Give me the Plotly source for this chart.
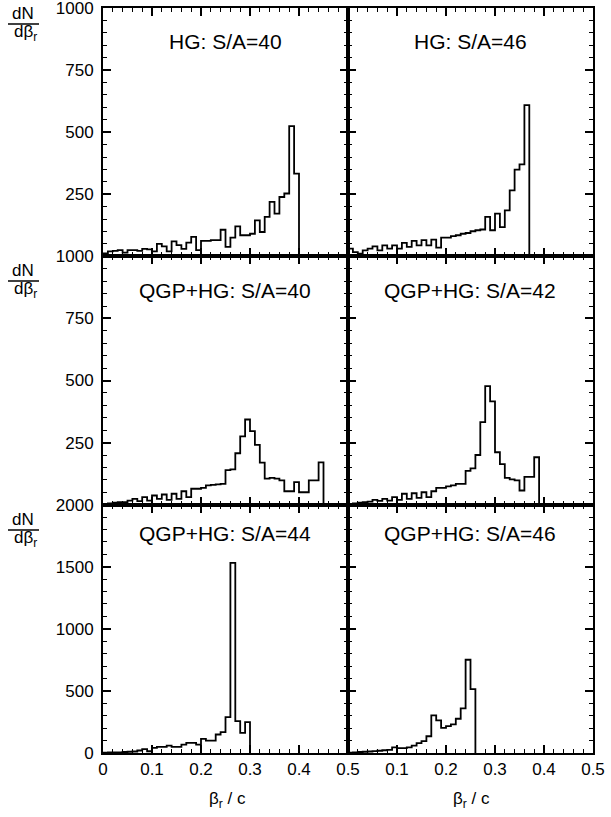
import plotly.graph_objects as go
from plotly.subplots import make_subplots

BIN = 0.01

hg40 = [12, 20, 22, 25, 15, 25, 25, 22, 30, 28, 20, 50, 40, 20, 60, 45, 30, 55, 78, 25,
        62, 62, 65, 65, 107, 38, 75, 121, 85, 85, 91, 145, 98, 159, 219, 172, 239, 253, 524, 333]
hg46 = [31, 17, 11, 24, 31, 40, 24, 44, 31, 44, 31, 54, 38, 62, 44, 65, 44, 67, 35, 75,
        75, 81, 85, 91, 94, 101, 105, 108, 159, 105, 172, 118, 185, 266, 349, 370, 609]
qgp40 = [3, 5, 8, 10, 10, 16, 23, 14, 30, 16, 37, 23, 41, 19, 44, 23, 54, 30, 64, 64,
         68, 78, 80, 82, 84, 139, 142, 207, 275, 343, 296, 241, 169, 105, 108, 105, 98, 54, 54, 91,
         50, 50, 98, 98, 170]
qgp42 = [3, 5, 8, 10, 12, 19, 15, 23, 16, 30, 19, 44, 23, 46, 27, 50, 30, 54, 68, 68,
         74, 78, 84, 84, 136, 146, 200, 332, 477, 416, 211, 163, 108, 102, 98, 57, 112, 112, 191]
qgp44 = [3, 4, 5, 5, 8, 10, 12, 20, 32, 14, 41, 49, 49, 59, 49, 49, 68, 81, 81, 68,
         114, 100, 100, 149, 168, 289, 1532, 257, 162, 249]
qgp46 = [3, 5, 8, 10, 12, 15, 18, 22, 25, 45, 40, 40, 45, 60, 80, 95, 135, 303, 262, 203,
         216, 230, 276, 359, 751, 514]

titles = ["HG: S/A=40", "HG: S/A=46", "QGP+HG: S/A=40", "QGP+HG: S/A=42",
          "QGP+HG: S/A=44", "QGP+HG: S/A=46"]
series = [hg40, hg46, qgp40, qgp42, qgp44, qgp46]
y_ranges = [1000, 1000, 2000]
y_minor = [50, 50, 100]
y_tickvals = [[250, 500, 750, 1000], [250, 500, 750, 1000], [0, 500, 1000, 1500, 2000]]
x_tick_left = [0, 0.1, 0.2, 0.3, 0.4, 0.5]
x_tick_right = [0.1, 0.2, 0.3, 0.4, 0.5]

W, H = 611, 817
L, R, T, B = 103, 18, 8, 64
PW, PH = W - L - R, H - T - B

def xp(px):
    return (px - L) / PW

def yp(py):
    return 1 - (py - T) / PH

FONT = "Liberation Sans, Arial, Helvetica, sans-serif"

fig = make_subplots(rows=3, cols=2, horizontal_spacing=0, vertical_spacing=0)

for i, (vals, title) in enumerate(zip(series, titles)):
    r, c = i // 2 + 1, i % 2 + 1
    edges = [round(k * BIN, 4) for k in range(len(vals) + 1)]
    ys = list(vals) + [0]
    fig.add_trace(go.Scatter(x=edges, y=ys, mode="lines",
                             line=dict(shape="hv", color="black", width=1.8),
                             showlegend=False, hoverinfo="skip"), row=r, col=c)

for r in range(1, 4):
    for c in range(1, 3):
        tv = x_tick_left if c == 1 else x_tick_right
        fig.update_xaxes(row=r, col=c, range=[0, 0.5], showgrid=False, zeroline=False,
                         showline=True, linecolor="black", linewidth=2, mirror="allticks",
                         ticks="inside", ticklen=8, tickwidth=1.5, tickcolor="black",
                         tickmode="array", tickvals=tv, ticktext=[("%g" % v) for v in tv],
                         showticklabels=(r == 3), ticklabeloverflow="allow",
                         tickfont=dict(family=FONT, size=17, color="black"),
                         minor=dict(ticks="inside", tickmode="linear", tick0=0, dtick=0.02,
                                    ticklen=4, tickwidth=1.2, tickcolor="black", showgrid=False))
        yv = y_tickvals[r - 1]
        fig.update_yaxes(row=r, col=c, range=[0, y_ranges[r - 1]], showgrid=False, zeroline=False,
                         showline=True, linecolor="black", linewidth=2, mirror="allticks",
                         ticks="inside", ticklen=8, tickwidth=1.5, tickcolor="black",
                         tickmode="array", tickvals=yv, ticktext=[str(v) for v in yv],
                         showticklabels=(c == 1), ticklabelstandoff=4, ticklabeloverflow="allow",
                         tickfont=dict(family=FONT, size=17, color="black"),
                         minor=dict(ticks="inside", tickmode="linear", tick0=0,
                                    dtick=y_minor[r - 1], ticklen=4, tickwidth=1.2,
                                    tickcolor="black", showgrid=False))

annotations = []
title_y = [42, 290, 533]
title_x = [225, 470]
for i, title in enumerate(titles):
    r, c = i // 2, i % 2
    annotations.append(dict(text=title, x=xp(title_x[c]), y=yp(title_y[r]), xref="paper",
                            yref="paper", showarrow=False, xanchor="center", yanchor="middle",
                            font=dict(family=FONT, size=21, color="black")))

shapes = []
frac_rows = [(14, 24, 33), (270, 281, 290), (519, 530, 539)]
for (ytop, yline, ybot) in frac_rows:
    annotations.append(dict(text="dN", x=xp(23), y=yp(ytop), xref="paper", yref="paper",
                            showarrow=False, xanchor="center", yanchor="middle",
                            font=dict(family=FONT, size=17, color="black")))
    annotations.append(dict(text="dβ<sub>r</sub>", x=xp(25), y=yp(ybot), xref="paper", yref="paper",
                            showarrow=False, xanchor="center", yanchor="middle",
                            font=dict(family=FONT, size=17, color="black")))
    shapes.append(dict(type="line", xref="paper", yref="paper", x0=xp(8), x1=xp(39),
                       y0=yp(yline), y1=yp(yline), line=dict(color="black", width=1.5)))

for cx in [227, 471]:
    annotations.append(dict(text="β<sub>r</sub> / c", x=xp(cx), y=yp(800), xref="paper",
                            yref="paper", showarrow=False, xanchor="center", yanchor="middle",
                            font=dict(family=FONT, size=17, color="black")))

fig.update_layout(width=W, height=H, margin=dict(l=L, r=R, t=T, b=B, autoexpand=False),
                  paper_bgcolor="white", plot_bgcolor="white",
                  annotations=annotations, shapes=shapes)

fig.write_html("out.html", config={"displayModeBar": False},
               post_script="document.body.style.margin='0';document.body.style.padding='0';")
